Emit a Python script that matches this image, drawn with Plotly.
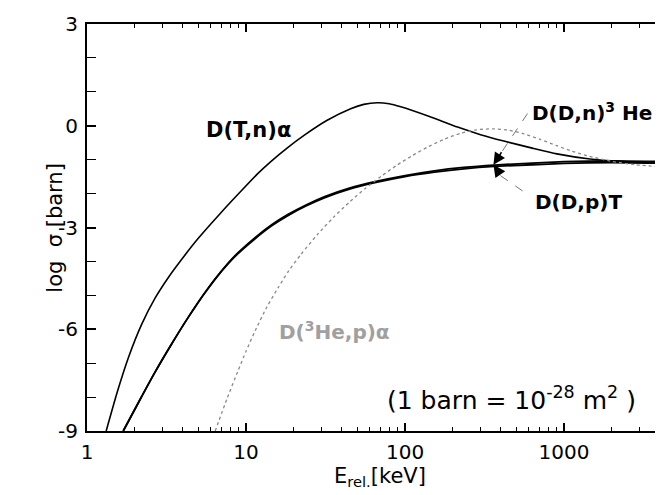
import plotly.graph_objects as go
import math

# ---- data (E in keV, log10 sigma in barn) ----
dt_E = [1.32, 1.55, 1.82, 2.21, 2.69, 3.24, 3.88, 5.01, 7.0, 9.12, 11.8, 14.2, 18.2, 23.4,
        32.4, 45.5, 55, 67, 79.4, 94, 141, 214, 302, 418, 631, 902, 1455, 2512, 4426]
dt_logs = [-9.00, -7.85, -6.84, -5.85, -5.07, -4.48, -3.98, -3.32, -2.55, -1.97, -1.42, -1.07,
           -0.65, -0.27, 0.16, 0.50, 0.63, 0.68, 0.65, 0.56, 0.28, -0.04, -0.27, -0.45, -0.66,
           -0.83, -0.98, -1.06, -1.09]

dd_E = [1.69, 2.14, 2.69, 3.39, 4.33, 5.50, 6.97, 8.45, 11.4, 14.5, 18.3, 24.0, 31.3, 44.7,
        64.6, 100, 153, 234, 363, 631, 1000, 1995, 4426]
ddn_logs = [-9.00, -8.10, -7.25, -6.45, -5.65, -4.93, -4.30, -3.85, -3.30, -2.92, -2.62, -2.33,
            -2.09, -1.84, -1.65, -1.47, -1.33, -1.23, -1.16, -1.10, -1.06, -1.04, -1.06]
ddp_logs = [-9.00, -8.10, -7.25, -6.45, -5.65, -4.93, -4.30, -3.87, -3.33, -2.95, -2.65, -2.36,
            -2.12, -1.87, -1.68, -1.50, -1.37, -1.27, -1.20, -1.15, -1.11, -1.09, -1.11]

dhe_E = [6.4, 7.59, 8.9, 10.0, 11.4, 13.5, 15.9, 18.6, 22.1, 28.2, 35.5, 44.7, 56.2, 70.8,
         89.1, 112, 141, 178, 224, 282, 355, 447, 562, 708, 891, 1122, 1413, 1995, 2818, 4426]
dhe_logs = [-9.00, -8.05, -7.23, -6.65, -6.05, -5.35, -4.78, -4.27, -3.80, -3.20, -2.70, -2.25,
            -1.85, -1.49, -1.16, -0.87, -0.61, -0.39, -0.22, -0.12, -0.09, -0.13, -0.24, -0.40,
            -0.58, -0.75, -0.89, -1.05, -1.15, -1.22]

x_tick_vals = [1, 10, 100, 1000]
x_tick_text = ["1", "10", "100", "1000"]
y_tick_vals = [3, 0, -3, -6, -9]
y_tick_text = ["3", "0", "-3", "-6", "-9"]

FONT = "DejaVu Sans, Arial, sans-serif"

fig = go.Figure()
fig.add_trace(go.Scatter(x=dt_E, y=dt_logs, mode="lines",
                         line=dict(color="black", width=1.6, shape="spline", smoothing=0.6),
                         hoverinfo="skip"))
fig.add_trace(go.Scatter(x=dd_E, y=ddn_logs, mode="lines",
                         line=dict(color="black", width=1.8, shape="spline", smoothing=0.6),
                         hoverinfo="skip"))
fig.add_trace(go.Scatter(x=dd_E, y=ddp_logs, mode="lines",
                         line=dict(color="black", width=1.8, shape="spline", smoothing=0.6),
                         hoverinfo="skip"))
fig.add_trace(go.Scatter(x=dhe_E, y=dhe_logs, mode="lines",
                         line=dict(color="#8a8a8a", width=1.3, dash="dot", shape="spline", smoothing=0.6),
                         hoverinfo="skip"))

# dashed leader lines for arrow labels
leader_n_E = [410, 605]
leader_n_y = [-0.74, 0.44]
leader_p_E = [398, 605]
leader_p_y = [-1.47, -2.06]
for xs, ys in [(leader_n_E, leader_n_y), (leader_p_E, leader_p_y)]:
    fig.add_trace(go.Scatter(x=xs, y=ys, mode="lines",
                             line=dict(color="#777", width=1, dash="dash"),
                             hoverinfo="skip"))

minor_vals = [m * 10 ** d for d in range(0, 4) for m in range(2, 10)]

ann = []
ann.append(dict(x=math.log10(10.4), y=-0.12, text="<b>D(T,n)α</b>", showarrow=False,
                font=dict(size=21, color="black", family=FONT)))
ann.append(dict(x=3.175, y=0.41, text="<b>D(D,n)<sup>3</sup> He</b>", showarrow=False,
                font=dict(size=20, color="black", family=FONT)))
ann.append(dict(x=3.089, y=-2.24, text="<b>D(D,p)T</b>", showarrow=False,
                font=dict(size=20, color="black", family=FONT)))
ann.append(dict(x=1.554, y=-6.05, text="<b>D(<sup>3</sup>He,p)α</b>", showarrow=False,
                font=dict(size=20, color="#a0a0a0", family=FONT)))
ann.append(dict(x=2.669, y=-8.05, text="(1 barn = 10<sup>-28</sup> m<sup>2</sup> )", showarrow=False,
                font=dict(size=25, color="black", family=FONT)))
# arrowheads
tip_x = 2.556
tip_y = -1.15
ann.append(dict(x=tip_x, y=tip_y, ax=9, ay=-14, text="", showarrow=True,
                arrowhead=2, arrowsize=1.6, arrowwidth=1.5, arrowcolor="black"))
ann.append(dict(x=tip_x, y=tip_y, ax=7, ay=10, text="", showarrow=True,
                arrowhead=2, arrowsize=1.6, arrowwidth=1.5, arrowcolor="black"))
# axis titles
ann.append(dict(xref="paper", yref="paper", x=-0.0805, y=0.5, text="log  σ [barn]",
                textangle=-90, showarrow=False, font=dict(size=21, color="black", family=FONT)))
ann.append(dict(xref="paper", yref="paper", x=0.503, y=-0.15, text="E<sub>rel.</sub>[keV]",
                showarrow=False, font=dict(size=21, color="black", family=FONT)))

fig.update_layout(
    width=663, height=495,
    margin=dict(l=79, r=0, t=16, b=72),
    paper_bgcolor="white", plot_bgcolor="white",
    showlegend=False,
    annotations=ann,
    font=dict(family=FONT, size=20, color="black"),
)
fig.update_xaxes(type="log", range=[0, 3.66], showgrid=False, zeroline=False,
                 tickvals=x_tick_vals, ticktext=x_tick_text,
                 ticks="inside", ticklen=8, tickwidth=1.5, tickcolor="black",
                 showline=True, linecolor="black", linewidth=2, mirror="ticks",
                 tickfont=dict(size=20, family=FONT), ticklabelstandoff=2,
                 minor=dict(tickvals=minor_vals, ticks="inside", ticklen=4,
                            tickwidth=1, tickcolor="black", showgrid=False))
fig.update_yaxes(range=[-9, 3], showgrid=False, zeroline=False,
                 tickvals=y_tick_vals, ticktext=y_tick_text,
                 ticks="inside", ticklen=9, tickwidth=1.5, tickcolor="black",
                 showline=True, linecolor="black", linewidth=2, mirror="ticks",
                 tickfont=dict(size=20, family=FONT), ticklabelstandoff=3,
                 minor=dict(dtick=1, ticks="inside", ticklen=9,
                            tickwidth=1.2, tickcolor="black", showgrid=False))

fig.write_html("out.html")
